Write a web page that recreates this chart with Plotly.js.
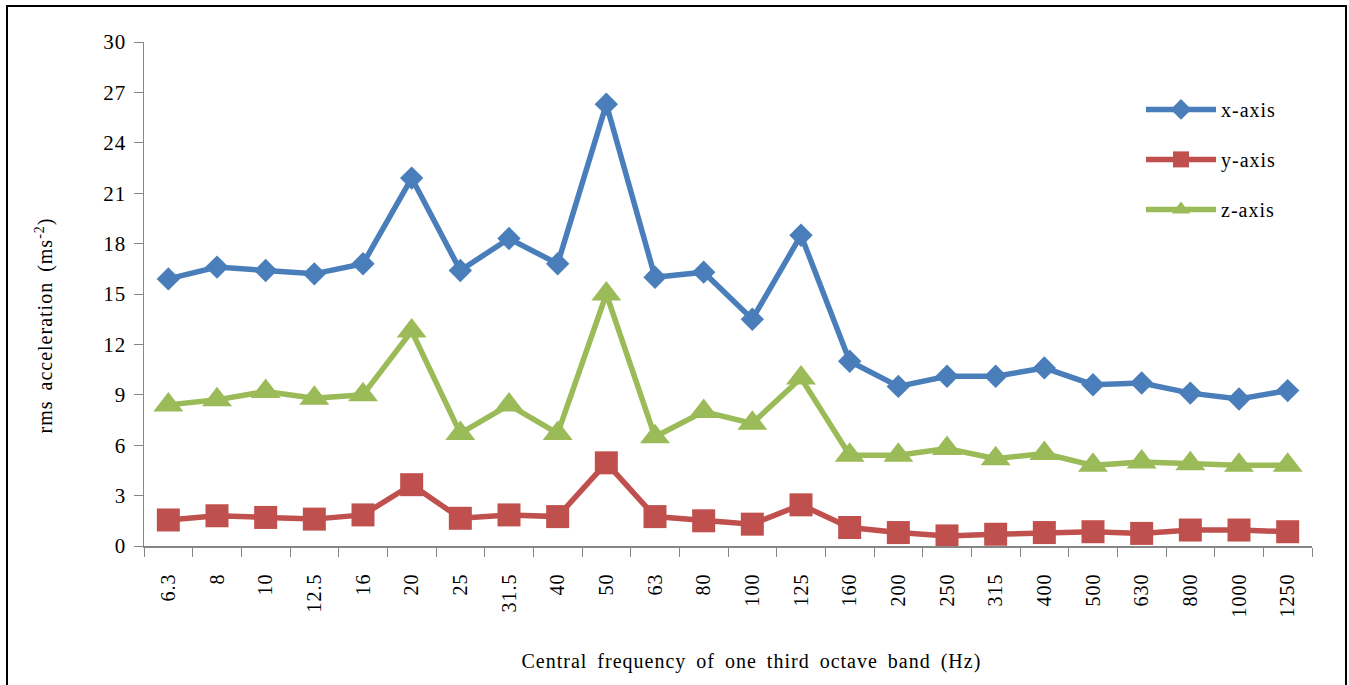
<!DOCTYPE html>
<html>
<head>
<meta charset="utf-8">
<script src="https://cdn.plot.ly/plotly-3.0.1.min.js"></script>
<style>
html,body{margin:0;padding:0;background:#fff;overflow:hidden;}
#chart{width:1349px;height:685px;position:absolute;left:0;top:0;}
#chart svg text{letter-spacing:1px;}
#chart .annotation text{word-spacing:4px;}
#frame{position:absolute;left:6px;top:5px;width:1337px;height:700px;border:2px solid #000;pointer-events:none;}
</style>
</head>
<body>
<div id="chart"></div>
<div id="frame"></div>
<script>
const categories = ["6.3","8","10","12.5","16","20","25","31.5","40","50","63","80","100","125","160","200","250","315","400","500","630","800","1000","1250"];
const xAxisValues = [15.9,16.6,16.4,16.2,16.8,21.9,16.4,18.3,16.8,26.3,16.0,16.3,13.5,18.5,11.0,9.5,10.1,10.1,10.6,9.6,9.7,9.1,8.75,9.25];
const yAxisValues = [1.55,1.8,1.7,1.6,1.85,3.65,1.65,1.85,1.75,4.95,1.75,1.5,1.3,2.45,1.1,0.8,0.6,0.7,0.8,0.85,0.75,0.95,0.95,0.85];
const zAxisValues = [8.4,8.7,9.2,8.8,9.0,12.8,6.7,8.4,6.7,15.0,6.5,8.0,7.3,10.0,5.4,5.4,5.8,5.2,5.5,4.8,5.0,4.9,4.8,4.8];
const seriesNames = ["x-axis","y-axis","z-axis"];

const font = "Liberation Serif, Times New Roman, serif";
const traces = [
  {x: categories, y: xAxisValues, name: seriesNames[0], legendgroup: "a", type: "scatter", mode: "lines+markers",
   line: {color: "#4A7EBB", width: 5.5}, marker: {symbol: "diamond", size: 18, color: "#4A7EBB"}},
  {x: categories, y: yAxisValues, name: seriesNames[1], legendgroup: "b", type: "scatter", mode: "lines+markers",
   line: {color: "#C0504D", width: 5.5}, marker: {symbol: "square", size: 23, color: "#C0504D"}},
  {x: categories, y: zAxisValues, name: seriesNames[2], legendgroup: "c", type: "scatter", mode: "lines+markers",
   line: {color: "#9BBB59", width: 5.5}, marker: {symbol: "triangle-up", size: 26, color: "#9BBB59"}}
];

const layout = {
  width: 1349, height: 685,
  margin: {l: 144, r: 37, t: 42, b: 139},
  paper_bgcolor: "#fff", plot_bgcolor: "#fff",
  font: {family: font, size: 20, color: "#000"},
  showlegend: true,
  legend: {x: 0.8536, y: 0.905, xanchor: "left", yanchor: "top", font: {family: font, size: 20},
           itemwidth: 70, traceorder: "grouped", tracegroupgap: 21, bgcolor: "rgba(0,0,0,0)"},
  xaxis: {type: "category", range: [-0.5, 23.5], tickson: "boundaries", ticks: "outside", ticklen: 9,
          tickcolor: "#868686", showline: true, linecolor: "#868686", linewidth: 1.5, showgrid: false,
          tickangle: -90, tickfont: {family: font, size: 20}, ticklabelstandoff: 18, zeroline: false, fixedrange: true},
  yaxis: {range: [0, 30], dtick: 3, tick0: 0, ticks: "outside", ticklen: 9, tickcolor: "#868686",
          showline: true, linecolor: "#868686", linewidth: 1.5, showgrid: false, zeroline: false,
          tickfont: {family: font, size: 21}, ticklabelstandoff: 3},
  annotations: [
    {text: "Central frequency of one third octave band (Hz)", xref: "paper", yref: "paper",
     x: 0.5205, y: -0.230, xanchor: "center", yanchor: "middle", showarrow: false,
     font: {family: font, size: 20}},
    {text: "rms acceleration (ms<sup>-2</sup>)", xref: "paper", yref: "paper", textangle: -90,
     x: -0.0848, y: 0.4385, xanchor: "center", yanchor: "middle", showarrow: false,
     font: {family: font, size: 20}}
  ]
};
Plotly.newPlot("chart", traces, layout, {displayModeBar: false, staticPlot: true});
</script>
</body>
</html>
